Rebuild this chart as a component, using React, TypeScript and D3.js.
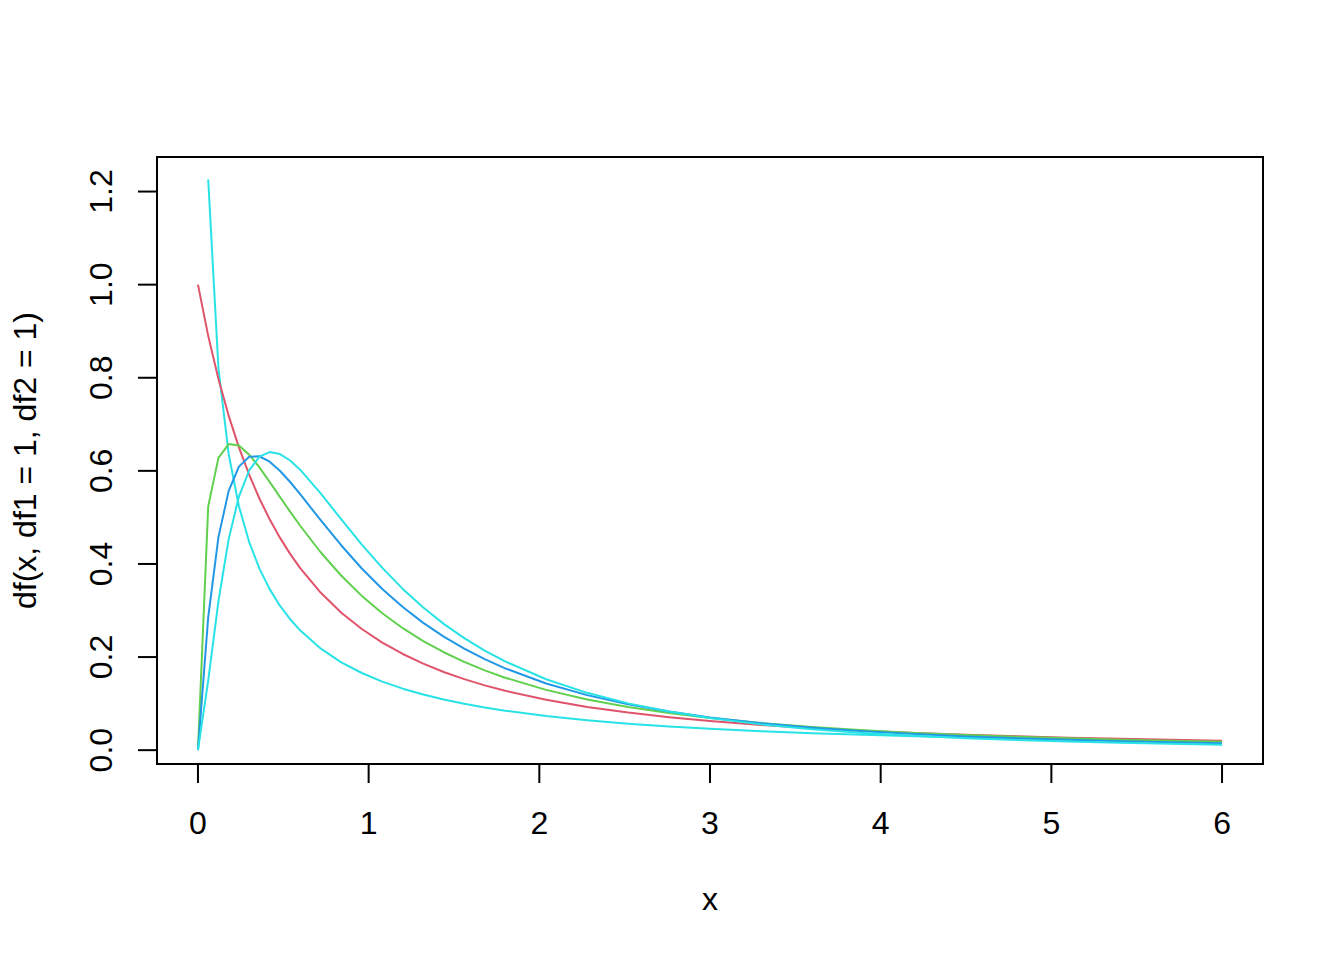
import React from "react";
import * as d3 from "d3";

// x grid
const xs = [0, 0.06, 0.12, 0.18, 0.24, 0.30, 0.36, 0.42, 0.48, 0.54, 0.60, 0.72, 0.84, 0.96, 1.08, 1.20, 1.32, 1.44, 1.56, 1.68, 1.80, 2.04, 2.28, 2.52, 2.76, 3.00, 3.30, 3.60, 3.90, 4.20, 4.50, 4.80, 5.10, 5.40, 5.70, 6.00];

// density values, df1 = df2 = 1..5
const f11: (number | null)[] = [null, 1.22594, 0.82043, 0.63582, 0.52399, 0.44704, 0.39009, 0.34589, 0.31043, 0.28128, 0.25683, 0.21810, 0.18875, 0.16575, 0.14726, 0.13208, 0.11942, 0.10871, 0.09955, 0.09163, 0.08473, 0.07331, 0.06427, 0.05697, 0.05096, 0.04594, 0.04075, 0.03647, 0.03289, 0.02987, 0.02728, 0.02505, 0.02311, 0.02140, 0.01990, 0.01856];
const f22 = [1, 0.88999, 0.79719, 0.71818, 0.65036, 0.59172, 0.54066, 0.49593, 0.45654, 0.42166, 0.39063, 0.33802, 0.29537, 0.26031, 0.23114, 0.20661, 0.18579, 0.16797, 0.15259, 0.13923, 0.12755, 0.10821, 0.09295, 0.08071, 0.07073, 0.0625, 0.05408, 0.04726, 0.04165, 0.03698, 0.03306, 0.02973, 0.02687, 0.02441, 0.02228, 0.02041];
const f33 = [0, 0.52372, 0.62788, 0.65755, 0.65431, 0.63485, 0.60740, 0.57637, 0.54423, 0.51235, 0.48157, 0.42464, 0.37465, 0.33136, 0.29408, 0.26198, 0.23430, 0.21036, 0.18958, 0.17147, 0.15563, 0.12946, 0.10896, 0.09268, 0.07958, 0.06892, 0.05818, 0.04964, 0.04274, 0.03712, 0.03247, 0.02859, 0.02534, 0.02257, 0.02021, 0.01819];
const f44 = [0, 0.28515, 0.45757, 0.55705, 0.60908, 0.63023, 0.63139, 0.61979, 0.60027, 0.57605, 0.54932, 0.49359, 0.43970, 0.39030, 0.34620, 0.30736, 0.27338, 0.24376, 0.21793, 0.19540, 0.17571, 0.14331, 0.11819, 0.09849, 0.08285, 0.07031, 0.05791, 0.04824, 0.04059, 0.03447, 0.02951, 0.02545, 0.02210, 0.01931, 0.01697, 0.01499];
const f55 = [0, 0.14916, 0.32035, 0.45336, 0.54469, 0.60104, 0.63052, 0.64028, 0.63605, 0.62220, 0.60196, 0.55119, 0.49576, 0.44163, 0.39152, 0.34641, 0.30645, 0.27135, 0.24067, 0.21391, 0.19057, 0.15241, 0.12316, 0.10054, 0.08286, 0.06892, 0.05538, 0.04504, 0.03703, 0.03075, 0.02576, 0.02176, 0.01852, 0.01587, 0.01369, 0.01188];

const seriesList = [
  { name: "df(1,1)", values: f11, color: "#28E2E5" },
  { name: "df(2,2)", values: f22, color: "#DF536B" },
  { name: "df(3,3)", values: f33, color: "#61D04F" },
  { name: "df(4,4)", values: f44, color: "#2297E6" },
  { name: "df(5,5)", values: f55, color: "#28E2E5" },
];

const xTicks = [0, 1, 2, 3, 4, 5, 6];
const yTicks = [0, 0.2, 0.4, 0.6, 0.8, 1.0, 1.2];
const xLabel = "x";
const yLabel = "df(x, df1 = 1, df2 = 1)";

const W = 1344, H = 960;
const left = 157, right = 1263, top = 157, bottom = 764;
const font = "'Liberation Sans', Arial, Helvetica, sans-serif";
const fs = 32;

export default function App() {
  const xr = [xs[0], xs[xs.length - 1]];
  const xpad = (xr[1] - xr[0]) * 0.04;
  const x = d3.scaleLinear().domain([xr[0] - xpad, xr[1] + xpad]).range([left, right]);
  const finite = f11.filter((v): v is number => v != null);
  const [ymin, ymax] = d3.extent(finite) as [number, number];
  const ypad = (ymax - ymin) * 0.04;
  const y = d3.scaleLinear().domain([ymin - ypad, ymax + ypad]).range([bottom, top]);

  const line = d3
    .line<number | null>()
    .defined((d) => d != null && isFinite(d))
    .x((_, i) => x(xs[i]))
    .y((d) => y(d as number));

  const tickLen = 19;

  return (
    <svg width={W} height={H} style={{ position: "absolute", left: 0, top: 0, background: "#fff" }}>
      <rect x={0} y={0} width={W} height={H} fill="#fff" />
      {seriesList.map((s) => (
        <path key={s.name} d={line(s.values) || ""} fill="none" stroke={s.color} strokeWidth={2} strokeLinejoin="round" />
      ))}
      <rect x={left} y={top} width={right - left} height={bottom - top} fill="none" stroke="#000" strokeWidth={2} />
      {/* x axis */}
      <line x1={x(xTicks[0])} x2={x(xTicks[xTicks.length - 1])} y1={bottom} y2={bottom} stroke="#000" strokeWidth={2} />
      {xTicks.map((t) => (
        <g key={"xt" + t}>
          <line x1={x(t)} x2={x(t)} y1={bottom} y2={bottom + tickLen} stroke="#000" strokeWidth={2} />
          <text x={x(t)} y={834} textAnchor="middle" fontFamily={font} fontSize={fs} fill="#000">
            {String(t)}
          </text>
        </g>
      ))}
      {/* y axis */}
      <line x1={left} x2={left} y1={y(yTicks[0])} y2={y(yTicks[yTicks.length - 1])} stroke="#000" strokeWidth={2} />
      {yTicks.map((t) => (
        <g key={"yt" + t}>
          <line x1={left} x2={left - tickLen} y1={y(t)} y2={y(t)} stroke="#000" strokeWidth={2} />
          <text
            transform={`translate(112,${y(t)}) rotate(-90)`}
            textAnchor="middle"
            fontFamily={font}
            fontSize={fs}
            fill="#000"
          >
            {t.toFixed(1)}
          </text>
        </g>
      ))}
      <text x={x(3)} y={910} textAnchor="middle" fontFamily={font} fontSize={fs} fill="#000">
        {xLabel}
      </text>
      <text
        transform={`translate(36,${(top + bottom) / 2}) rotate(-90)`}
        textAnchor="middle"
        fontFamily={font}
        fontSize={fs}
        fill="#000"
      >
        {yLabel}
      </text>
    </svg>
  );
}
